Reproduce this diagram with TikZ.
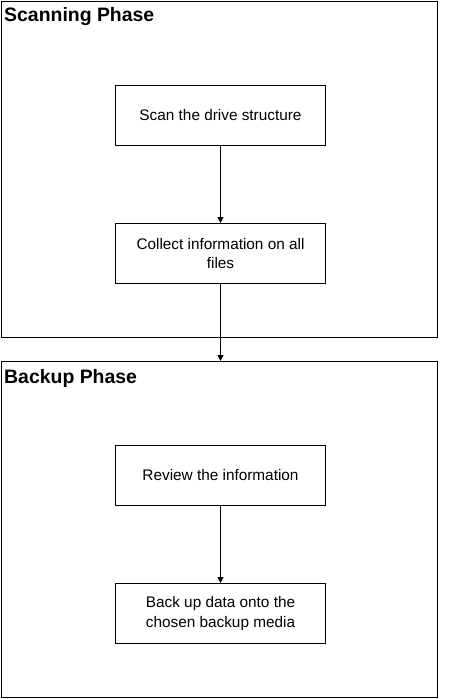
\documentclass[tikz,border=0pt]{standalone}
\usepackage{fontspec}
\setmainfont{Liberation Sans}
\usetikzlibrary{arrows.meta}
\begin{document}
\begin{tikzpicture}[x=1bp,y=-1bp,
  phase/.style={draw, line width=1bp, minimum width=436bp, minimum height=336bp, inner sep=0pt},
  phasetitle/.style={font=\fontsize{19.5}{22}\selectfont\bfseries, inner sep=0pt, anchor=base west},
  stepbox/.style={draw, line width=1bp, minimum width=210bp, minimum height=60bp, inner sep=0pt,
    align=center, font=\fontsize{15.4}{19.5}\selectfont},
  arr/.style={line width=1bp, -{Triangle[width=6bp,length=6bp]}}]
\useasboundingbox (0,0) rectangle (451,699);
\node[phase] (p1) at (219.5,169.5) {};
\node[phase] (p2) at (219.5,529.5) {};
\node[phasetitle] (t1) at (4,22) {Scanning Phase};
\node[phasetitle] (t2) at (4,383) {Backup Phase};
\node[stepbox] (scan) at (220.5,115.5) {Scan the drive structure};
\node[stepbox] (collect) at (220.5,253.5) {Collect information on all\\files};
\node[stepbox] (review) at (220.5,475.5) {Review the information};
\node[stepbox] (backup) at (220.5,613.5) {Back up data onto the\\chosen backup media};
\draw[arr] (scan) -- (collect);
\draw[arr] (collect.south) -- (collect.south |- p2.north);
\draw[arr] (review) -- (backup);
\end{tikzpicture}
\end{document}
